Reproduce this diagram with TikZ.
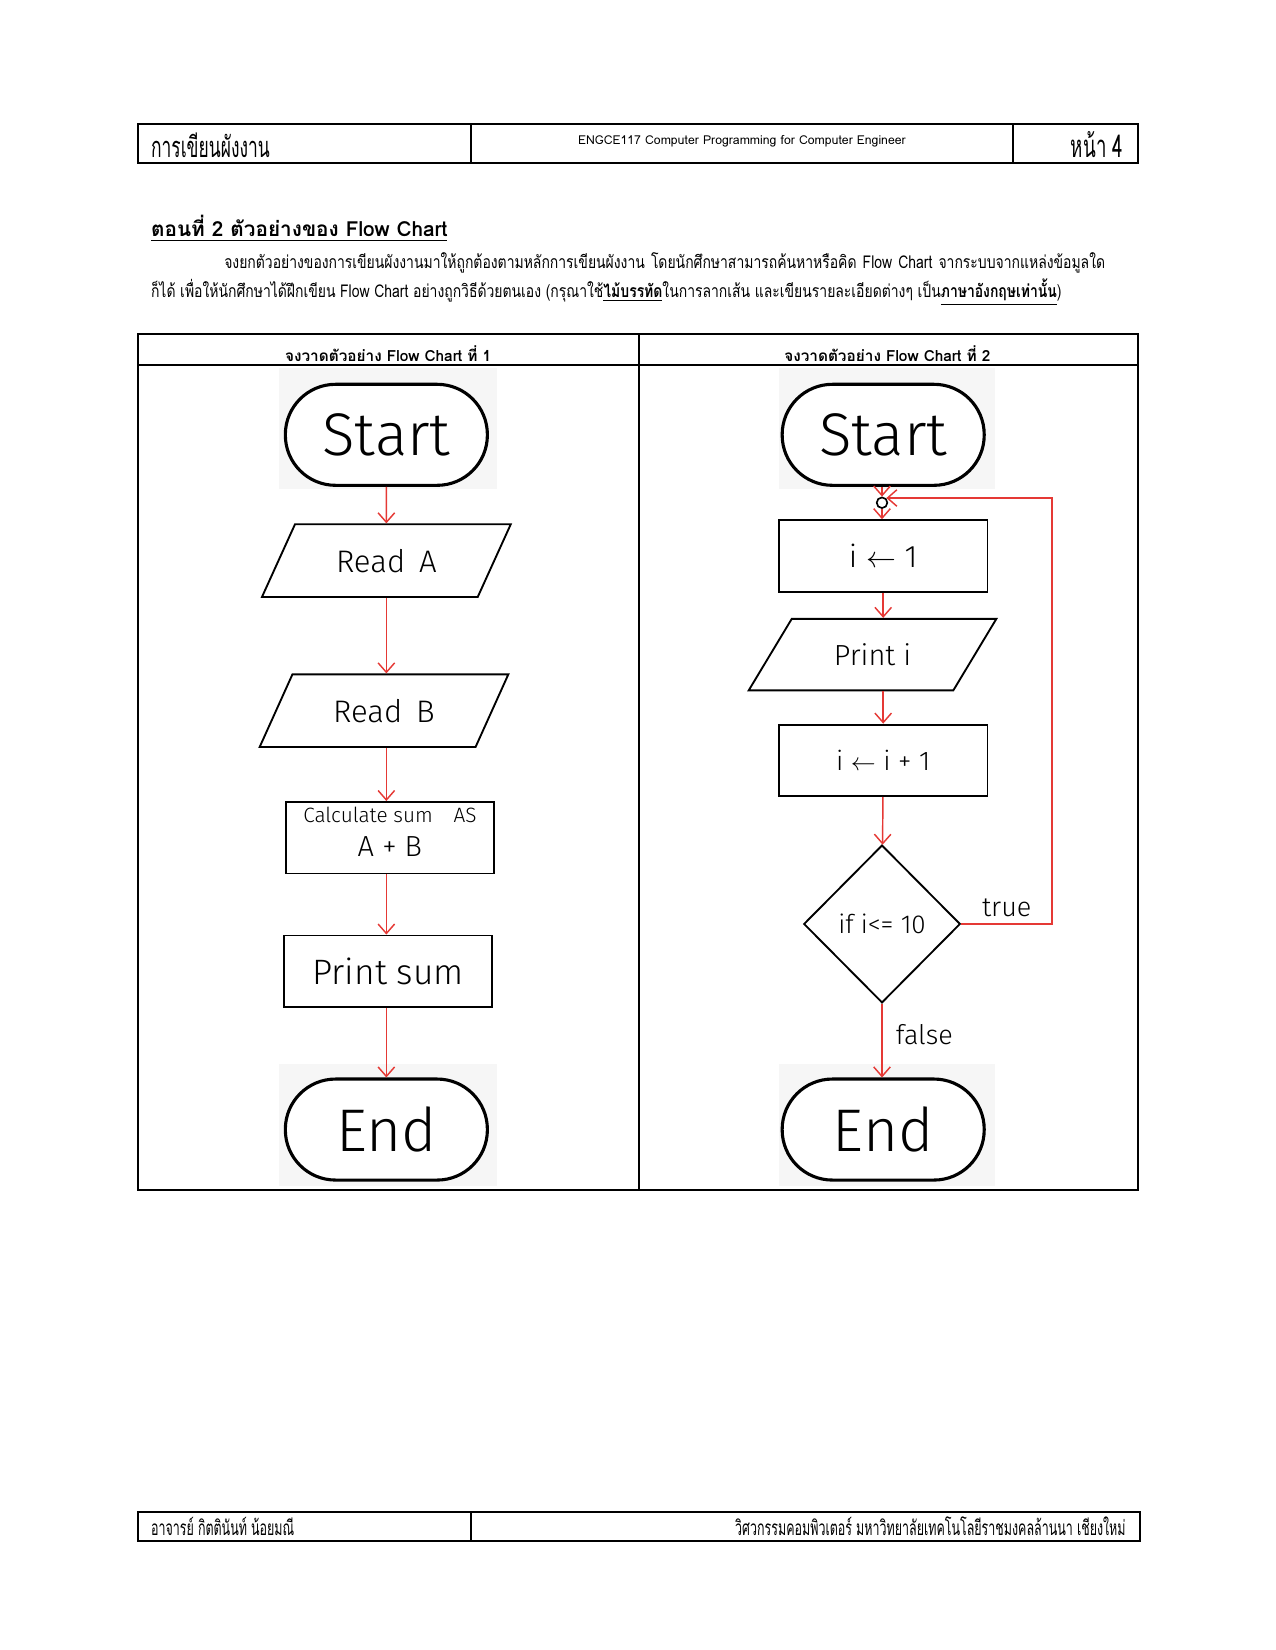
\documentclass[tikz,border=0pt]{standalone}
\usepackage{fontspec}
\setmainfont{Loma}[Script=Thai]
\newfontfamily\thaifont[Script=Thai]{Loma}
\newfontfamily\thaipara[Script=Thai,FakeStretch=0.79]{Loma}
\newfontfamily\thainarrow[Script=Thai,FakeStretch=0.6]{Loma}
\newfontfamily\handfont{Fira Sans Light}
\usepackage{tikz}
\usetikzlibrary{shapes.geometric, arrows.meta, positioning}
\usepackage{xcolor}
\definecolor{flowred}{RGB}{229,57,53}
\definecolor{imgbg}{RGB}{246,246,246}

\begin{document}
\begin{tikzpicture}[
    terminal/.style = {rectangle, rounded corners=0.85cm, draw=black, fill=white, line width=1.5pt, minimum width=3.42cm, minimum height=1.71cm, font=\handfont\fontsize{29}{29}\selectfont},
    io/.style = {trapezium, trapezium left angle=61, trapezium right angle=119, trapezium stretches=true, draw=black, line width=0.9pt, minimum width=4.22cm, minimum height=1.23cm, font=\handfont\fontsize{15}{15}\selectfont},
    process/.style = {rectangle, draw=black, line width=0.9pt, minimum width=3.53cm, minimum height=1.21cm, font=\handfont\fontsize{15}{15}\selectfont},
    decision/.style = {diamond, draw=black, line width=0.9pt, minimum width=2.65cm, minimum height=2.67cm, inner sep=0pt, font=\handfont\fontsize{12.5}{12.5}\selectfont},
    junction/.style = {circle, draw=black, line width=0.8pt, minimum size=0.18cm, inner sep=0pt},
    flow/.style = {draw=flowred, line width=0.7pt, -{Straight Barb[length=1.6mm, width=2.8mm]}},
    handlabel/.style = {font=\handfont\fontsize{13}{13}\selectfont, text=black},
    frame/.style = {draw=black, line width=1pt},
    photo/.style = {fill=imgbg}
]
\useasboundingbox (0,0) rectangle (21.59,-27.93);

% Page header
\draw [frame] (2.33,-2.10) rectangle (19.26,-2.76);
\draw [frame] (7.98,-2.10) -- (7.98,-2.76);
\draw [frame] (17.15,-2.10) -- (17.15,-2.76);
\node (hdrL) [anchor=base west, inner sep=0pt, font=\thainarrow\fontsize{14}{14}\selectfont] at (2.55,-2.67) {การเขียนผังงาน};
\node (hdrC) [font=\thaifont\fontsize{5.9}{7}\selectfont] at (12.56,-2.39) {ENGCE117 Computer Programming for Computer Engineer};
\node (hdrR) [anchor=base east, inner sep=0pt, font=\thainarrow\fontsize{15}{15}\selectfont] at (19.02,-2.67) {หน้า 4};

% Heading and instructions
\node (title) [anchor=base west, inner sep=0pt, font=\thaifont\bfseries\fontsize{10}{12}\selectfont] at (2.55,-4.01) {\underline{ตอนที่ 2 ตัวอย่างของ Flow Chart}};
\node (para1) [anchor=base west, inner sep=0pt, font=\thaipara\fontsize{8.5}{10}\selectfont] at (3.79,-4.54) {\makebox[14.91cm][s]{จงยกตัวอย่างของการเขียนผังงานมาให้ถูกต้องตามหลักการเขียนผังงาน โดยนักศึกษาสามารถค้นหาหรือคิด Flow Chart จากระบบจากแหล่งข้อมูลใด}};
\node (para2) [anchor=base west, inner sep=0pt, font=\thaipara\fontsize{8.5}{10}\selectfont] at (2.55,-5.04) {ก็ได้ เพื่อให้นักศึกษาได้ฝึกเขียน Flow Chart อย่างถูกวิธีด้วยตนเอง (กรุณาใช้\textbf{\underline{ไม้บรรทัด}}ในการลากเส้น และเขียนรายละเอียดต่างๆ เป็น\textbf{\underline{ภาษาอังกฤษเท่านั้น}})};

% Table
\draw [frame] (2.33,-5.66) rectangle (19.26,-20.15);
\draw [frame] (10.81,-5.66) -- (10.81,-20.15);
\draw [frame] (2.33,-6.18) -- (19.26,-6.18);
\node (colA) [font=\thaifont\bfseries\fontsize{7.4}{9}\selectfont] at (6.57,-5.99) {จงวาดตัวอย่าง Flow Chart ที่ 1};
\node (colB) [font=\thaifont\bfseries\fontsize{7.4}{9}\selectfont] at (15.02,-5.99) {จงวาดตัวอย่าง Flow Chart ที่ 2};

% Flow chart 1
\fill [photo] (4.72,-6.23) rectangle (8.41,-8.28);
\fill [photo] (4.72,-18.01) rectangle (8.41,-20.08);
\node (startA) [terminal] at (6.54,-7.36) {Start};
\node (readA) [io] at (6.54,-9.49) {Read\, A};
\node (readB) [io] at (6.50,-12.03) {Read\, B};
\node (calc) [process, align=center, inner ysep=1pt, text depth=0.2cm] at (6.60,-14.18) {{\fontsize{10}{11}\selectfont Calculate sum\quad AS}\\[1pt]{\fontsize{14}{14}\selectfont A + B}};
\node (prsum) [process, font=\handfont\fontsize{17}{17}\selectfont] at (6.57,-16.44) {Print sum};
\node (endA) [terminal] at (6.54,-19.12) {End};

\draw [flow] (startA) -- (readA);
\draw [flow] (readA.south) -- (readA.south |- readB.north);
\draw [flow] (readB.south -| startA) -- (startA |- calc.north);
\draw [flow] (startA |- calc.south) -- (startA |- prsum.north);
\draw [flow] (startA |- prsum.south) -- (endA);

% Flow chart 2
\fill [photo] (13.18,-6.23) rectangle (16.85,-8.28);
\fill [photo] (13.18,-18.01) rectangle (16.85,-20.08);
\node (startB) [terminal] at (14.95,-7.36) {Start};
\node (join) [junction] at (14.93,-8.51) {};
\node (init) [process] at (14.95,-9.41) {i $\leftarrow$ 1};
\node (prnt) [io, trapezium left angle=56, trapezium right angle=124, minimum width=4.20cm, minimum height=1.21cm, font=\handfont\fontsize{14}{14}\selectfont] at (14.77,-11.08) {Print i};
\node (incr) [process, font=\handfont\fontsize{13}{13}\selectfont] at (14.95,-12.87) {i $\leftarrow$ i + 1};
\node (dec) [decision] at (14.93,-15.64) {if i<= 10};
\node (endB) [terminal] at (14.95,-19.12) {End};
\coordinate (loopR) at (17.81,-8.43);

\draw [flow] (startB.south -| join) -- (join);
\draw [flow] (join) -- (join |- init.north);
\draw [flow] (init.south) -- (init.south |- prnt.north);
\draw [flow] (prnt.south -| incr.north) -- (incr.north);
\draw [flow] (incr) -- (dec);
\draw [flow] (dec.east) -| node [pos=0.25, above, handlabel] {true} (loopR) -- (join.north east |- loopR);
\draw [flow] (dec) -- node [right, handlabel, xshift=3pt, yshift=3pt] {false} (dec |- endB.north);

% Page footer
\draw [frame] (2.33,-25.60) rectangle (19.29,-26.08);
\draw [frame] (7.98,-25.60) -- (7.98,-26.08);
\node (ftrL) [anchor=base west, inner sep=0pt, font=\thainarrow\fontsize{10}{10}\selectfont] at (2.55,-25.99) {อาจารย์ กิตตินันท์ น้อยมณี};
\node (ftrR) [anchor=base east, inner sep=0pt, font=\thainarrow\fontsize{10}{10}\selectfont] at (19.06,-25.99) {วิศวกรรมคอมพิวเตอร์ มหาวิทยาลัยเทคโนโลยีราชมงคลล้านนา เชียงใหม่};

\end{tikzpicture}
\end{document}
